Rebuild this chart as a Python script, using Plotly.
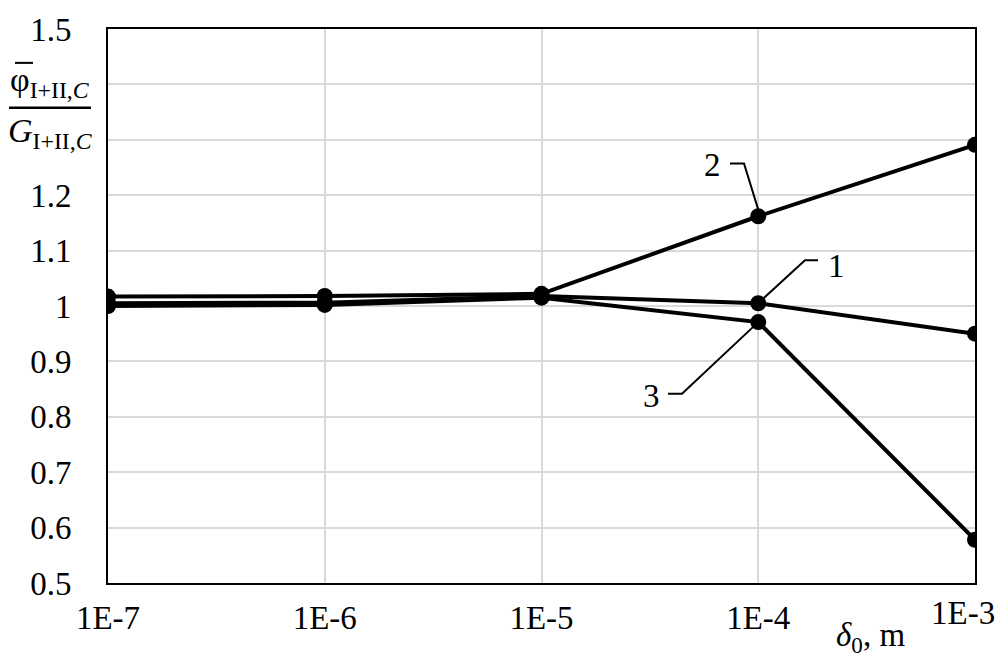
import plotly.graph_objects as go
import math

# ---- data ----
x_vals = [1e-7, 1e-6, 1e-5, 1e-4, 1e-3]
x_ticktext = ["1E-7", "1E-6", "1E-5", "1E-4", "1E-3"]
series_1 = [1.005, 1.006, 1.018, 1.005, 0.950]
series_2 = [1.017, 1.018, 1.022, 1.162, 1.291]
series_3 = [1.000, 1.002, 1.015, 0.971, 0.578]
y_tickvals = [0.5, 0.6, 0.7, 0.8, 0.9, 1.0, 1.1, 1.2, 1.5]
y_ticktext = ["0.5", "0.6", "0.7", "0.8", "0.9", "1", "1.1", "1.2", "1.5"]
y_hidden_grid = [1.3, 1.4]

FONT = "Liberation Serif"
W, H = 1006, 662
ML, MR, MT, MB = 108, 31, 27, 79
PW, PH = W - ML - MR, H - MT - MB


def px(xp):
    return (xp - ML) / PW


def py(yp):
    return (H - MB - yp) / PH


fig = go.Figure()
for ys in (series_1, series_2, series_3):
    fig.add_trace(go.Scatter(
        x=x_vals, y=ys, mode="lines+markers",
        line=dict(color="black", width=4),
        marker=dict(color="black", size=16),
        showlegend=False, hoverinfo="skip"))


def data_to_paper(xv, yv):
    xp = (math.log10(xv) + 7) / 4
    yp = (yv - 0.5) / 1.0
    return xp, yp


leaders = [
    ((730, 162), (744, 162), (1e-4, series_2[3]), 0.0, 0.012),
    ((818, 259), (805, 259), (1e-4, series_1[3]), 0.004, 0.006),
    ((668, 393), (682, 393), (1e-4, series_3[3]), -0.004, -0.006),
]
for (a, b, (dx, dy), ox, oy) in leaders:
    ex, ey = data_to_paper(dx, dy)
    path = "M {} {} L {} {} L {} {}".format(px(a[0]), py(a[1]), px(b[0]), py(b[1]), ex + ox, ey + oy)
    fig.add_shape(type="path", path=path, xref="paper", yref="paper",
                  line=dict(color="black", width=2))

labels = [("2", 712, 163), ("1", 836, 265), ("3", 651, 395)]
for t, xp_, yp_ in labels:
    fig.add_annotation(text=t, x=px(xp_), y=py(yp_), xref="paper", yref="paper",
                       showarrow=False, font=dict(family=FONT, size=33, color="black"),
                       xanchor="center", yanchor="middle")

# last x tick label, pulled inside the page like in the reference
last_xp, _ = data_to_paper(x_vals[-1], 0.5)
fig.add_annotation(text=x_ticktext[-1], x=last_xp, xref="paper", y=py(613), yref="paper",
                   showarrow=False, font=dict(family=FONT, size=33, color="black"),
                   xanchor="center", yanchor="middle", xshift=-12)

# y-axis title as a fraction
fig.add_annotation(text="φ<sub>I+II,<i>C</i></sub>", x=px(50), y=py(80), xref="paper", yref="paper",
                   showarrow=False, font=dict(family=FONT, size=34, color="black"),
                   xanchor="center", yanchor="middle")
fig.add_shape(type="line", xref="paper", yref="paper", x0=px(15), x1=px(33), y0=py(61), y1=py(61),
              line=dict(color="black", width=2))
fig.add_shape(type="line", xref="paper", yref="paper", x0=px(9), x1=px(91), y0=py(106), y1=py(106),
              line=dict(color="black", width=2.5))
fig.add_annotation(text="<i>G</i><sub>I+II,<i>C</i></sub>", x=px(50), y=py(131), xref="paper", yref="paper",
                   showarrow=False, font=dict(family=FONT, size=34, color="black"),
                   xanchor="center", yanchor="middle")

# x-axis title
fig.add_annotation(text="<i>δ</i><sub>0</sub>, m", x=px(870), y=py(638), xref="paper", yref="paper",
                   showarrow=False, font=dict(family=FONT, size=33, color="black"),
                   xanchor="center", yanchor="middle")

fig.update_layout(
    width=W, height=H,
    margin=dict(l=ML, r=MR, t=MT, b=MB),
    paper_bgcolor="white", plot_bgcolor="white",
    font=dict(family=FONT, size=33, color="black"),
)
fig.update_xaxes(
    type="log", range=[-7, -3], tickvals=x_vals[:-1], ticktext=x_ticktext[:-1],
    showgrid=True, gridcolor="#d9d9d9", gridwidth=2,
    showline=True, linecolor="black", linewidth=2, mirror=True,
    ticks="", ticklabelstandoff=4, zeroline=False,
    tickfont=dict(family=FONT, size=33, color="black"),
)
fig.update_yaxes(
    range=[0.5, 1.5], tickvals=y_tickvals, ticktext=y_ticktext,
    showgrid=True, gridcolor="#d9d9d9", gridwidth=2,
    minor=dict(tickvals=y_hidden_grid, showgrid=True, gridcolor="#d9d9d9", gridwidth=2, ticks=""),
    showline=True, linecolor="black", linewidth=2, mirror=True,
    ticks="", ticklabelstandoff=28, zeroline=False,
    tickfont=dict(family=FONT, size=33, color="black"),
)

fig.write_html("out.html", config={"displayModeBar": False},
               post_script="document.body.style.margin='0';document.body.style.overflow='hidden';")
